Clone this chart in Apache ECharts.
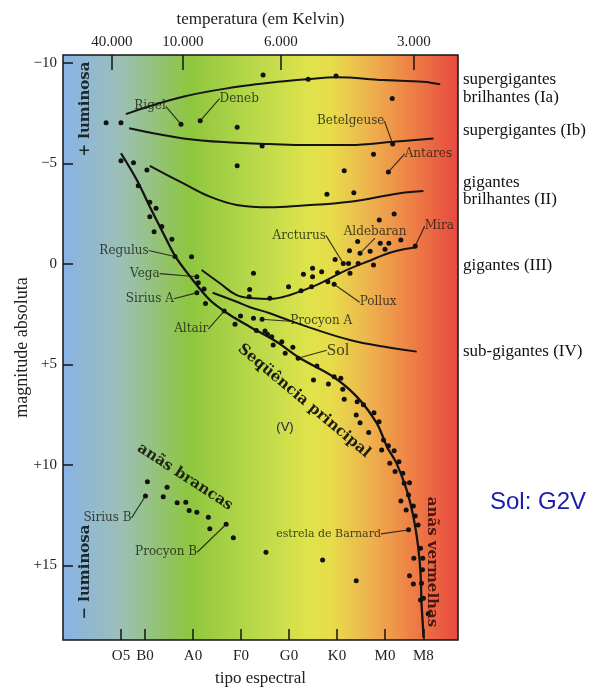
<!DOCTYPE html>
<html>
<head>
<meta charset="utf-8">
<script src="https://cdn.jsdelivr.net/npm/echarts@6/dist/echarts.min.js"></script>
<style>
  html, body { margin: 0; padding: 0; background: #fff; }
  #hr { width: 604px; height: 688px; }
</style>
</head>
<body>
<div id="hr"></div>
<script>
// x = spectral sub-class index (O0 = 0, B0 = 10, ... M0 = 60), y = absolute magnitude
const specTicks = [5, 10, 20, 30, 40, 50, 60, 68];
const specLabels = ['O5', 'B0', 'A0', 'F0', 'G0', 'K0', 'M0', 'M8'];
const tempTicks = [3.1, 17.9, 38.3, 66.0];
const tempLabels = ['40.000', '10.000', '6.000', '3.000'];
const magTicks = [-10, -5, 0, 5, 10, 15];
const magLabels = ['\u221210', '\u22125', '0', '+5', '+10', '+15'];

// luminosity class lines
const classIa = [[6.0, -7.46], [17.9, -8.32], [29.2, -8.82], [36.0, -9.02], [43.7, -9.19], [49.9, -9.29], [59.6, -9.15], [67.9, -9.07], [71.5, -8.94]];
const classIb = [[6.7, -6.75], [18.0, -6.25], [29.1, -6.03], [36.0, -5.97], [43.7, -5.92], [52.7, -5.92], [61.7, -6.08], [70.1, -6.25]];
const classII = [[11.0, -4.88], [18.0, -4.01], [23.5, -3.35], [29.1, -2.94], [36.0, -2.82], [42.3, -2.90], [52.7, -3.10], [63.1, -3.52], [68.0, -3.63]];
const classIII = [[21.8, 0.30], [25.6, 0.96], [29.1, 1.55], [32.6, 1.71], [36.0, 1.74], [40.2, 1.54], [45.8, 1.04], [51.3, 0.38], [56.2, -0.11], [61.7, -0.61], [66.6, -0.83]];
const classIV = [[24.1, 1.43], [29.1, 1.88], [31.9, 2.15], [36.0, 2.45], [38.8, 2.70], [45.8, 3.28], [52.7, 3.78], [59.6, 4.11], [66.6, 4.36]];
const mainSeq = [[5.0, -5.51], [8.3, -4.18], [11.0, -2.85], [13.8, -1.53], [16.25, -0.40], [19.4, 0.63], [23.5, 1.79], [27.7, 2.54], [31.9, 3.13], [37.4, 3.87], [42.3, 4.69], [49.2, 5.61], [54.1, 6.60], [58.3, 7.93], [60.4, 9.09], [62.4, 9.92], [64.5, 11.24], [65.9, 12.57], [66.9, 14.06], [67.4, 15.39], [67.6, 16.88], [67.9, 18.04], [68.0, 18.6]];

// unnamed stars
const stars = [
  [1.9, -7.03], [5.0, -7.03], [29.2, -6.80], [34.6, -9.40], [44.0, -9.19], [49.8, -9.35], [61.5, -8.24],
  [34.4, -5.87], [29.2, -4.89], [57.6, -5.46], [51.5, -4.64], [47.9, -3.47], [53.5, -3.55], [61.9, -2.49], [58.8, -2.19],
  [5.0, -5.14], [7.6, -5.04], [10.4, -4.68], [8.6, -3.90], [11.0, -3.07], [12.3, -2.77], [11.0, -2.35], [13.5, -1.86],
  [11.9, -1.61], [15.6, -1.23], [19.7, -0.36],
  [54.3, -1.12], [59.0, -1.03], [60.8, -1.03], [63.3, -1.19], [52.6, -0.66], [56.9, -0.63], [60.0, -0.73], [49.6, -0.23],
  [52.4, -0.03], [54.4, -0.03], [57.6, 0.05], [52.7, 0.46], [50.1, 0.43], [46.8, 0.38], [44.9, 0.21], [44.9, 0.63],
  [43.0, 0.51], [32.6, 0.46], [39.9, 1.13], [42.5, 1.33], [44.7, 1.13], [48.1, 0.88], [31.8, 1.27], [31.7, 1.63], [36.0, 1.71],
  [21.1, 0.93], [22.3, 1.24], [22.6, 1.96], [29.9, 2.59], [28.75, 3.00], [32.6, 2.70], [33.2, 3.31], [35.0, 3.33],
  [35.5, 3.50], [36.4, 3.62], [38.5, 3.87], [40.8, 4.14], [36.7, 4.03], [39.2, 4.44], [45.8, 5.07], [45.1, 5.77],
  [49.4, 5.61], [50.8, 5.69], [48.2, 5.97], [51.2, 6.23], [51.5, 6.73], [54.2, 6.85], [55.5, 7.01], [57.7, 7.40],
  [54.0, 7.51], [54.8, 7.90], [58.75, 7.85], [56.6, 8.38], [59.7, 8.76], [60.7, 9.05], [59.3, 9.25], [61.9, 9.29],
  [61.0, 9.92], [62.9, 9.84], [62.1, 10.33], [63.7, 10.41], [64.0, 10.91], [65.1, 10.88], [64.9, 11.49], [63.3, 11.79],
  [65.9, 12.04], [64.4, 12.24], [66.3, 12.54], [66.9, 12.99], [67.4, 14.14], [66.0, 14.64], [67.85, 14.64], [65.1, 15.51],
  [67.8, 15.22], [65.9, 15.92], [67.6, 15.89], [67.4, 16.72], [68.0, 16.63], [69.0, 17.41],
  [35.2, 14.34], [47.0, 14.73], [54.0, 15.76],
  [10.5, 10.83], [13.8, 11.58], [14.6, 11.11], [16.7, 11.88], [18.5, 11.86], [19.2, 12.27], [20.8, 12.35],
  [23.2, 12.60], [23.5, 13.18], [28.4, 13.62]
];

const starNames = ['Rigel', 'Deneb', 'Betelgeuse', 'Antares', 'Arcturus', 'Aldebaran', 'Mira', 'Pollux', 'Procyon A',
  'Sol', 'Regulus', 'Vega', 'Sirius A', 'Altair', 'Sirius B', 'Procyon B', 'estrela de Barnard'];
const starPos = [[17.5, -6.95], [21.5, -7.13], [61.6, -5.97], [60.7, -4.58], [51.3, -0.03], [54.8, -0.54], [66.3, -0.90],
  [49.4, 1.01], [34.4, 2.75], [41.9, 4.69], [16.25, -0.37], [20.8, 0.63], [20.8, 1.43], [26.5, 2.34], [10.1, 11.54],
  [26.9, 12.95], [64.9, 13.23]];

// where each name sits relative to its dot (px)
const nameShift = {
  'Rigel': [-31, -18], 'Deneb': [39, -22], 'Betelgeuse': [-42, -23], 'Antares': [40, -18],
  'Arcturus': [-44, -28], 'Aldebaran': [15, -21], 'Mira': [24, -20], 'Pollux': [44, 18],
  'Procyon A': [59, 2], 'Sol': [40, -8], 'Regulus': [-51, -6], 'Vega': [-52, -3],
  'Sirius A': [-47, 6], 'Altair': [-33, 18], 'Sirius B': [-38, 22], 'Procyon B': [-60, 28],
  'estrela de Barnard': [-80, 4]
};

const chart = echarts.init(document.getElementById('hr'));

const pick = (ticks, labels) => v => {
  let best = 0;
  ticks.forEach((t, i) => { if (Math.abs(t - v) < Math.abs(ticks[best] - v)) best = i; });
  return labels[best];
};

const serif = '"Liberation Serif", "Times New Roman", serif';
const lineStyle = { color: '#141414', width: 2 };

const bg = new echarts.graphic.LinearGradient(0, 0, 1, 0, [
  { offset: 0, color: '#88b3e6' },
  { offset: 0.15, color: '#9cbfb6' },
  { offset: 0.32, color: '#8dc63f' },
  { offset: 0.48, color: '#b8d84a' },
  { offset: 0.62, color: '#dfe34a' },
  { offset: 0.68, color: '#e7dc4a' },
  { offset: 0.78, color: '#eeb04e' },
  { offset: 0.88, color: '#ee8046' },
  { offset: 1, color: '#e84840' }
]);

const option = {
  backgroundColor: '#fff',
  animation: false,
  grid: {
    left: 63, right: 146, top: 55, bottom: 48,
    show: true, backgroundColor: bg, borderColor: '#141414', borderWidth: 1.5,
    containLabel: false, outerBoundsMode: 'none'
  },
  xAxis: [
    {
      type: 'value', min: -7.08, max: 75.2, position: 'bottom',
      name: 'tipo espectral', nameLocation: 'middle', nameGap: 30, nameMoveOverlap: false,
      nameTextStyle: { fontFamily: serif, fontSize: 17, color: '#222' },
      axisLine: { show: false, onZero: false }, splitLine: { show: false },
      axisTick: { show: true, inside: true, length: 11, customValues: specTicks, lineStyle: { color: '#141414', width: 1.5 } },
      axisLabel: { customValues: specTicks, formatter: pick(specTicks, specLabels), margin: 9, fontFamily: serif, fontSize: 15, color: '#222' }
    },
    {
      type: 'value', min: -7.08, max: 75.2, position: 'top',
      name: 'temperatura (em Kelvin)', nameLocation: 'middle', nameGap: 27, nameMoveOverlap: false,
      nameTextStyle: { fontFamily: serif, fontSize: 17, color: '#222' },
      axisLine: { show: false, onZero: false }, splitLine: { show: false },
      axisTick: { show: true, inside: true, length: 15, customValues: tempTicks, lineStyle: { color: '#141414', width: 1.5 } },
      axisLabel: { customValues: tempTicks, formatter: pick(tempTicks, tempLabels), margin: 5, fontFamily: serif, fontSize: 15, color: '#222' }
    }
  ],
  yAxis: {
    type: 'value', inverse: true, min: -10.4, max: 18.71,
    name: 'magnitude absoluta', nameLocation: 'middle', nameGap: 41, nameRotate: 90, nameMoveOverlap: false,
    nameTextStyle: { fontFamily: serif, fontSize: 18, color: '#222', verticalAlign: 'middle' },
    axisLine: { show: false, onZero: false }, splitLine: { show: false },
    axisTick: { show: true, inside: true, length: 10, customValues: magTicks, lineStyle: { color: '#141414', width: 1.5 } },
    axisLabel: { customValues: magTicks, formatter: pick(magTicks, magLabels), margin: 6, fontFamily: serif, fontSize: 15, color: '#222' }
  },
  series: [
    ...[classIa, classIb, classII, classIII, classIV].map(d => ({
      type: 'line', data: d, smooth: 0.4, showSymbol: false, silent: true, lineStyle: lineStyle, z: 2
    })),
    {
      type: 'line', data: mainSeq, smooth: 0.3, showSymbol: false, silent: true,
      lineStyle: { color: '#141414', width: 2.3 }, z: 2
    },
    {
      type: 'scatter', data: stars, symbolSize: 5, silent: true,
      itemStyle: { color: '#111', opacity: 1 }, z: 3
    },
    {
      type: 'scatter', symbolSize: 5, silent: true, z: 4,
      itemStyle: { color: '#111', opacity: 1 },
      data: starNames.map((n, i) => ({
        name: n, value: starPos[i],
        label: n === 'Sol' ? { fontSize: 17, fontFamily: serif }
          : n === 'estrela de Barnard' ? { fontSize: 11 } : {}
      })),
      label: {
        show: true, position: 'inside', formatter: '{b}',
        fontFamily: '"DejaVu Serif", serif', fontSize: 12, color: 'rgba(25,32,18,0.82)'
      },
      labelLayout: p => {
        const s = nameShift[starNames[p.dataIndex]];
        return { dx: s[0], dy: s[1] };
      },
      labelLine: { show: true, lineStyle: { color: 'rgba(20,20,20,0.85)', width: 1.1 } }
    }
  ],
  graphic: [
    { type: 'text', x: 463, y: 80, style: { text: 'supergigantes', font: '17px ' + serif, fill: '#111', verticalAlign: 'middle', textVerticalAlign: 'middle' } },
    { type: 'text', x: 463, y: 98, style: { text: 'brilhantes (Ia)', font: '17px ' + serif, fill: '#111', verticalAlign: 'middle', textVerticalAlign: 'middle' } },
    { type: 'text', x: 463, y: 131, style: { text: 'supergigantes (Ib)', font: '17px ' + serif, fill: '#111', verticalAlign: 'middle', textVerticalAlign: 'middle' } },
    { type: 'text', x: 463, y: 183, style: { text: 'gigantes', font: '17px ' + serif, fill: '#111', verticalAlign: 'middle', textVerticalAlign: 'middle' } },
    { type: 'text', x: 463, y: 200, style: { text: 'brilhantes (II)', font: '17px ' + serif, fill: '#111', verticalAlign: 'middle', textVerticalAlign: 'middle' } },
    { type: 'text', x: 463, y: 266, style: { text: 'gigantes (III)', font: '17px ' + serif, fill: '#111', verticalAlign: 'middle', textVerticalAlign: 'middle' } },
    { type: 'text', x: 463, y: 352, style: { text: 'sub-gigantes (IV)', font: '17px ' + serif, fill: '#111', verticalAlign: 'middle', textVerticalAlign: 'middle' } },
    { type: 'text', x: 538, y: 502, style: { text: 'Sol: G2V', font: '24px "Liberation Sans", Arial, sans-serif', fill: '#1c1ca8', align: 'center', textAlign: 'center', verticalAlign: 'middle', textVerticalAlign: 'middle' } },
    { type: 'text', x: 85, y: 109, rotation: Math.PI / 2, z: 10, style: { text: '+ luminosa', font: 'bold 15px "DejaVu Serif", serif', fill: '#1a2a2a', align: 'center', textAlign: 'center', verticalAlign: 'middle', textVerticalAlign: 'middle' } },
    { type: 'text', x: 85, y: 572, rotation: Math.PI / 2, z: 10, style: { text: '\u2212 luminosa', font: 'bold 15px "DejaVu Serif", serif', fill: '#1a2a2a', align: 'center', textAlign: 'center', verticalAlign: 'middle', textVerticalAlign: 'middle' } },
    { type: 'text', x: 304, y: 401, rotation: -40 * Math.PI / 180, z: 10, style: { text: 'Seq\u00fc\u00eancia principal', font: 'bold 15px "DejaVu Serif", serif', fill: '#1c1c14', align: 'center', textAlign: 'center', verticalAlign: 'middle', textVerticalAlign: 'middle' } },
    { type: 'text', x: 185, y: 477, rotation: -33 * Math.PI / 180, z: 10, style: { text: 'an\u00e3s brancas', font: 'bold 15px "DejaVu Serif", serif', fill: '#1c2414', align: 'center', textAlign: 'center', verticalAlign: 'middle', textVerticalAlign: 'middle' } },
    { type: 'text', x: 432, y: 562, rotation: -Math.PI / 2, z: 10, style: { text: 'an\u00e3s vermelhas', font: 'bold 15px "DejaVu Serif", serif', fill: '#4a1410', align: 'center', textAlign: 'center', verticalAlign: 'middle', textVerticalAlign: 'middle' } },
    { type: 'text', x: 285, y: 427, z: 10, style: { text: '(V)', font: '13px "Liberation Sans", Arial, sans-serif', fill: '#2a2040', align: 'center', textAlign: 'center', verticalAlign: 'middle', textVerticalAlign: 'middle' } }
  ]
};

chart.setOption(option);
window.addEventListener('resize', () => {
  chart.resize();
});
</script>
</body>
</html>
